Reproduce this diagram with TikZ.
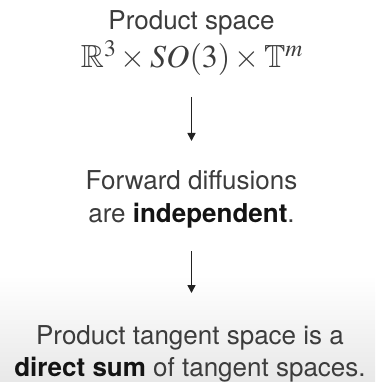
\documentclass[tikz,border=0pt]{standalone}
\usepackage{amssymb}
\usepackage{mathptmx}
\usepackage[no-math]{fontspec}
\setmainfont{TeX Gyre Heros}
\usetikzlibrary{arrows.meta}
\definecolor{txt}{HTML}{3C3C3C}
\definecolor{bld}{HTML}{141414}
\definecolor{arr}{HTML}{222222}
\tikzset{
  line/.style={font=\fontsize{26}{32}\selectfont, text=txt, anchor=base, inner sep=0pt},
  mathline/.style={font=\fontsize{32}{36}\selectfont, text=txt, anchor=base, inner sep=0pt},
  flowarrow/.style={draw=arr, line width=1.6pt, -{Triangle[length=8pt,width=8pt]}},
}
\begin{document}
\begin{tikzpicture}[x=1pt,y=1pt]
\useasboundingbox (0,0) rectangle (375,-382);
\shade[top color=white, bottom color=black!9] (0,-275) rectangle (375,-382);
\node[line] (title) at (191.5,-30) {Product space};
\node[mathline] (space) at (192,-68) {$\mathbb{R}^3\times SO(3)\times\mathbb{T}^m$};
\coordinate (a1s) at (191.5,-97);
\coordinate (a1e) at (191.5,-141);
\draw[flowarrow] (a1s) -- (a1e);
\node[line] (fwd) at (191.5,-189.5) {Forward diffusions};
\node[line] (indep) at (191.5,-222.5) {are \textcolor{bld}{\textbf{independent}}.};
\coordinate (a2s) at (191.5,-251);
\coordinate (a2e) at (191.5,-293);
\draw[flowarrow] (a2s) -- (a2e);
\node[line] (tangent) at (190,-344.7) {Product tangent space is a};
\node[line] (dsum) at (190,-376.7) {\textcolor{bld}{\textbf{direct sum}} of tangent spaces.};
\end{tikzpicture}
\end{document}
